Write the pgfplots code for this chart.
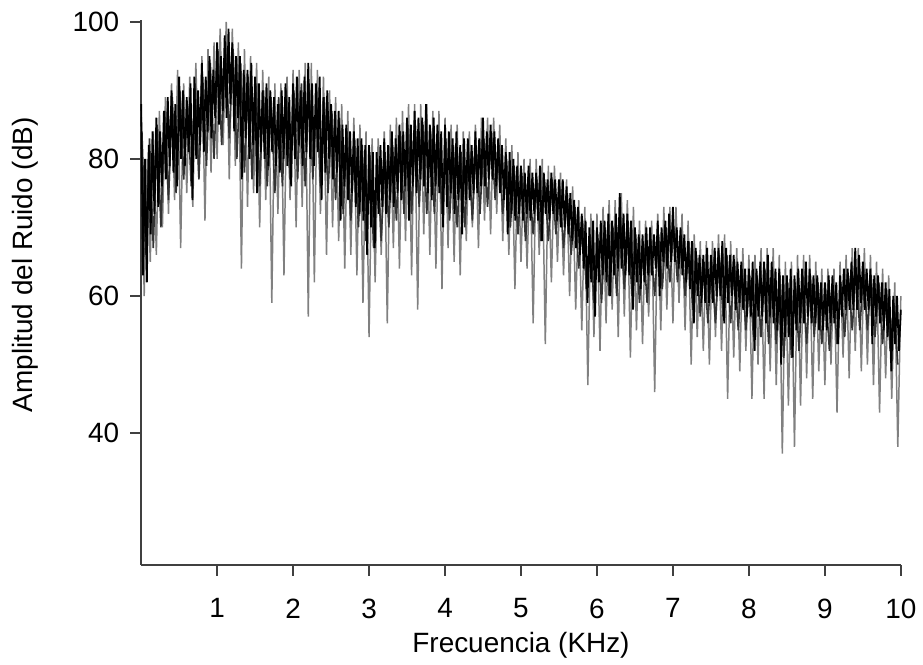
\documentclass[border=0pt]{standalone}
\usepackage{pgfplots}
\pgfplotsset{compat=1.18}
\usepackage{fontspec}
\setmainfont{Liberation Sans}
\begin{document}
\begin{tikzpicture}
\begin{axis}[
 scale only axis, width=381pt, height=273pt,
 xmin=0, xmax=10, ymin=20.8, ymax=100.2,
 axis x line*=bottom, axis y line*=left,
 axis line style={line width=1.2pt, black!75},
 xtick={1,...,10}, ytick={40,60,80,100},
 tick align=outside, major tick length=5.5pt,
 tick style={line width=0.9pt, black!75},
 /pgf/number format/assume math mode=true,
 font=\fontsize{14}{16}\selectfont,
 xticklabel style={yshift=-8pt}, yticklabel style={xshift=-2pt},
 xlabel={Frecuencia (KHz)}, ylabel={Amplitud del Ruido (dB)},
 xlabel style={at={(axis description cs:0.5,-0.148)}, anchor=center},
 ylabel style={at={(axis description cs:-0.153,0.551)}, anchor=center},
 clip=false]
 \path (rel axis cs:-0.1858,-0.1777) (rel axis cs:1.0249,1.0375);
 % grey spikes
 \addplot[black!50, line width=0.75pt] coordinates {
 (0,87)(0.04,60)(0.08,80)(0.12,65)(0.16,84)(0.20,66)(0.24,87)(0.28,70)(0.32,89)(0.36,72)
 (0.40,91)(0.44,74)(0.48,93)(0.52,67)(0.56,91)(0.60,75)(0.64,92)(0.68,73)(0.72,94)(0.76,77)
 (0.80,95)(0.84,71)(0.88,96)(0.92,78)(0.96,97)(1.00,80)(1.04,99)(1.08,82)(1.12,100)(1.16,77)
 (1.20,99)(1.24,79)(1.28,97)(1.32,64)(1.36,96)(1.40,73)(1.44,95)(1.48,75)(1.52,94)(1.56,70)
 (1.60,93)(1.64,74)(1.68,92)(1.72,59)(1.76,91)(1.80,72)(1.84,91)(1.88,63)(1.92,92)(1.96,74)
 (2.00,93)(2.04,70)(2.08,93)(2.12,73)(2.16,94)(2.20,57)(2.24,94)(2.28,62)(2.32,93)(2.36,72)
 (2.40,92)(2.44,66)(2.48,90)(2.52,70)(2.56,89)(2.60,68)(2.64,88)(2.68,64)(2.72,87)(2.76,66)
 (2.80,86)(2.84,63)(2.88,85)(2.92,59)(2.96,84)(3.00,54)(3.04,83)(3.08,62)(3.12,83)(3.16,66)
 (3.20,84)(3.24,56)(3.28,85)(3.32,67)(3.36,86)(3.40,64)(3.44,87)(3.48,68)(3.52,88)(3.56,63)
 (3.60,88)(3.64,58)(3.68,88)(3.72,69)(3.76,88)(3.80,66)(3.84,87)(3.88,64)(3.92,87)(3.96,61)
 (4.00,86)(4.04,67)(4.08,85)(4.12,65)(4.16,85)(4.20,63)(4.24,84)(4.28,68)(4.32,84)(4.36,70)
 (4.40,85)(4.44,67)(4.48,86)(4.52,71)(4.56,86)(4.60,69)(4.64,86)(4.68,72)(4.72,85)(4.76,68)
 (4.80,83)(4.84,66)(4.88,82)(4.92,61)(4.96,81)(5.00,65)(5.04,80)(5.08,64)(5.12,80)(5.16,56)
 (5.20,80)(5.24,66)(5.28,80)(5.32,53)(5.36,79)(5.40,62)(5.44,79)(5.48,65)(5.52,78)(5.56,63)
 (5.60,77)(5.64,60)(5.68,76)(5.72,58)(5.76,74)(5.80,55)(5.84,73)(5.88,47)(5.92,72)(5.96,54)
 (6.00,72)(6.04,52)(6.08,73)(6.12,56)(6.16,74)(6.20,58)(6.24,74)(6.28,54)(6.32,75)(6.36,57)
 (6.40,74)(6.44,51)(6.48,73)(6.52,55)(6.56,71)(6.60,53)(6.64,71)(6.68,57)(6.72,71)(6.76,46)
 (6.80,72)(6.84,55)(6.88,73)(6.92,58)(6.96,73)(7.00,56)(7.04,73)(7.08,59)(7.12,72)(7.16,55)
 (7.20,71)(7.24,50)(7.28,69)(7.32,54)(7.36,68)(7.40,52)(7.44,68)(7.48,50)(7.52,68)(7.56,54)
 (7.60,69)(7.64,52)(7.68,69)(7.72,45)(7.76,68)(7.80,51)(7.84,67)(7.88,49)(7.92,67)(7.96,52)
 (8.00,66)(8.04,45)(8.08,66)(8.12,50)(8.16,67)(8.20,45)(8.24,67)(8.28,49)(8.32,67)(8.36,47)
 (8.40,66)(8.44,37)(8.48,65)(8.52,44)(8.56,65)(8.60,38)(8.64,66)(8.68,44)(8.72,66)(8.76,48)
 (8.80,66)(8.84,45)(8.88,65)(8.92,49)(8.96,64)(9.00,47)(9.04,64)(9.08,50)(9.12,64)(9.16,43)
 (9.20,65)(9.24,51)(9.28,66)(9.32,48)(9.36,67)(9.40,52)(9.44,67)(9.48,49)(9.52,67)(9.56,50)
 (9.60,66)(9.64,47)(9.68,65)(9.72,43)(9.76,64)(9.80,48)(9.84,63)(9.88,45)(9.92,62)(9.96,38)
 (10.00,60)};
 % dark grey layer that widens the band
 \addplot[black!80, line width=0.8pt] coordinates {
 (0.01,84)(0.06,66)(0.11,83)(0.16,67)(0.21,85)(0.26,70)(0.31,87)(0.36,74)(0.41,89)(0.46,75)
 (0.51,90)(0.56,77)(0.61,88)(0.66,76)(0.71,91)(0.76,77)(0.81,92)(0.86,79)(0.91,94)(0.96,80)
 (1.01,96)(1.06,82)(1.11,97)(1.16,83)(1.21,96)(1.26,80)(1.31,94)(1.36,78)(1.41,92)(1.46,77)
 (1.51,91)(1.56,76)(1.61,90)(1.66,76)(1.71,89)(1.76,75)(1.81,89)(1.86,76)(1.91,90)(1.96,77)
 (2.01,90)(2.06,77)(2.11,91)(2.16,76)(2.21,91)(2.26,77)(2.31,90)(2.36,76)(2.41,89)(2.46,75)
 (2.51,87)(2.56,74)(2.61,86)(2.66,72)(2.71,84)(2.76,71)(2.81,83)(2.86,70)(2.91,82)(2.96,68)
 (3.01,81)(3.06,67)(3.11,80)(3.16,68)(3.21,81)(3.26,70)(3.31,82)(3.36,71)(3.41,84)(3.46,72)
 (3.51,85)(3.56,72)(3.61,85)(3.66,73)(3.71,85)(3.76,72)(3.81,84)(3.86,72)(3.91,84)(3.96,72)
 (4.01,83)(4.06,71)(4.11,82)(4.16,70)(4.21,81)(4.26,70)(4.31,81)(4.36,71)(4.41,82)(4.46,72)
 (4.51,83)(4.56,73)(4.61,84)(4.66,74)(4.71,82)(4.76,72)(4.81,80)(4.86,70)(4.91,79)(4.96,69)
 (5.01,78)(5.06,68)(5.11,77)(5.16,69)(5.21,77)(5.26,68)(5.31,77)(5.36,68)(5.41,77)(5.46,69)
 (5.51,76)(5.56,67)(5.61,75)(5.66,66)(5.71,73)(5.76,64)(5.81,71)(5.86,61)(5.91,69)(5.96,59)
 (6.01,69)(6.06,59)(6.11,70)(6.16,60)(6.21,70)(6.26,60)(6.31,71)(6.36,61)(6.41,71)(6.46,60)
 (6.51,69)(6.56,59)(6.61,68)(6.66,59)(6.71,68)(6.76,60)(6.81,69)(6.86,61)(6.91,70)(6.96,62)
 (7.01,70)(7.06,62)(7.11,69)(7.16,60)(7.21,68)(7.26,58)(7.31,66)(7.36,57)(7.41,65)(7.46,56)
 (7.51,65)(7.56,56)(7.61,66)(7.66,57)(7.71,66)(7.76,56)(7.81,65)(7.86,55)(7.91,64)(7.96,55)
 (8.01,63)(8.06,54)(8.11,63)(8.16,54)(8.21,64)(8.26,53)(8.31,64)(8.36,53)(8.41,63)(8.46,51)
 (8.51,62)(8.56,51)(8.61,62)(8.66,52)(8.71,63)(8.76,53)(8.81,63)(8.86,54)(8.91,62)(8.96,53)
 (9.01,61)(9.06,52)(9.11,61)(9.16,53)(9.21,62)(9.26,54)(9.31,63)(9.36,55)(9.41,64)(9.46,55)
 (9.51,64)(9.56,55)(9.61,63)(9.66,54)(9.71,62)(9.76,53)(9.81,61)(9.86,52)(9.91,59)(9.96,50)};
 % black band
 \addplot[black, line width=0.9pt] coordinates {
 (0,88)(0.025,63)(0.05,80)(0.075,62)(0.1,82)(0.125,69)(0.15,84)(0.175,72)
 (0.2,86)(0.225,73)(0.25,84)(0.275,76)(0.3,87)(0.325,77)(0.35,89)(0.375,79)
 (0.4,90)(0.425,78)(0.45,88)(0.475,76)(0.5,92)(0.525,80)(0.55,90)(0.575,79)
 (0.6,89)(0.625,81)(0.65,91)(0.675,74)(0.7,92)(0.725,80)(0.75,90)(0.775,82)
 (0.8,94)(0.825,81)(0.85,92)(0.875,84)(0.9,95)(0.925,83)(0.95,93)(0.975,86)
 (1,97)(1.025,85)(1.05,95)(1.075,87)(1.1,98)(1.125,86)(1.15,99)(1.175,88)
 (1.2,97)(1.225,84)(1.25,95)(1.275,86)(1.3,95)(1.325,77)(1.35,93)(1.375,83)
 (1.4,93)(1.425,80)(1.45,94)(1.475,82)(1.5,92)(1.525,75)(1.55,91)(1.575,81)
 (1.6,90)(1.625,80)(1.65,91)(1.675,79)(1.7,90)(1.725,81)(1.75,89)(1.775,79)
 (1.8,88)(1.825,78)(1.85,90)(1.875,80)(1.9,91)(1.925,79)(1.95,89)(1.975,76)
 (2,91)(2.025,80)(2.05,92)(2.075,82)(2.1,90)(2.125,79)(2.15,92)(2.175,81)
 (2.2,94)(2.225,80)(2.25,91)(2.275,79)(2.3,91)(2.325,81)(2.35,92)(2.375,74)
 (2.4,89)(2.425,78)(2.45,90)(2.475,80)(2.5,88)(2.525,77)(2.55,87)(2.575,78)
 (2.6,87)(2.625,71)(2.65,85)(2.675,76)(2.7,85)(2.725,74)(2.75,84)(2.775,75)
 (2.8,84)(2.825,73)(2.85,83)(2.875,72)(2.9,83)(2.925,71)(2.95,82)(2.975,66)
 (3,82)(3.025,70)(3.05,81)(3.075,67)(3.1,81)(3.125,72)(3.15,82)(3.175,73)
 (3.2,83)(3.225,72)(3.25,82)(3.275,74)(3.3,84)(3.325,73)(3.35,83)(3.375,75)
 (3.4,85)(3.425,74)(3.45,84)(3.475,76)(3.5,86)(3.525,71)(3.55,85)(3.575,76)
 (3.6,87)(3.625,75)(3.65,86)(3.675,77)(3.7,86)(3.725,76)(3.75,88)(3.775,75)
 (3.8,85)(3.825,74)(3.85,86)(3.875,76)(3.9,85)(3.925,75)(3.95,84)(3.975,70)
 (4,85)(4.025,73)(4.05,84)(4.075,75)(4.1,83)(4.125,72)(4.15,84)(4.175,74)
 (4.2,82)(4.225,69)(4.25,83)(4.275,74)(4.3,83)(4.325,74)(4.35,82)(4.375,75)
 (4.4,84)(4.425,75)(4.45,83)(4.475,76)(4.5,86)(4.525,76)(4.55,84)(4.575,77)
 (4.6,85)(4.625,77)(4.65,84)(4.675,76)(4.7,83)(4.725,75)(4.75,82)(4.775,74)
 (4.8,81)(4.825,69)(4.85,81)(4.875,72)(4.9,80)(4.925,71)(4.95,79)(4.975,72)
 (5,79)(5.025,71)(5.05,78)(5.075,72)(5.1,79)(5.125,71)(5.15,78)(5.175,72)
 (5.2,78)(5.225,71)(5.25,79)(5.275,68)(5.3,78)(5.325,72)(5.35,77)(5.375,71)
 (5.4,78)(5.425,72)(5.45,77)(5.475,71)(5.5,77)(5.525,70)(5.55,77)(5.575,70)
 (5.6,76)(5.625,69)(5.65,75)(5.675,68)(5.7,74)(5.725,67)(5.75,73)(5.775,66)
 (5.8,72)(5.825,64)(5.85,71)(5.875,59)(5.9,70)(5.925,62)(5.95,71)(5.975,57)
 (6,70)(6.025,62)(6.05,71)(6.075,63)(6.1,71)(6.125,62)(6.15,72)(6.175,60)
 (6.2,71)(6.225,63)(6.25,72)(6.275,64)(6.3,75)(6.325,64)(6.35,72)(6.375,63)
 (6.4,72)(6.425,63)(6.45,71)(6.475,58)(6.5,70)(6.525,62)(6.55,69)(6.575,61)
 (6.6,69)(6.625,62)(6.65,70)(6.675,63)(6.7,70)(6.725,63)(6.75,69)(6.775,64)
 (6.8,71)(6.825,60)(6.85,70)(6.875,65)(6.9,71)(6.925,64)(6.95,72)(6.975,65)
 (7,73)(7.025,65)(7.05,70)(7.075,64)(7.1,70)(7.125,63)(7.15,69)(7.175,62)
 (7.2,68)(7.225,61)(7.25,68)(7.275,56)(7.3,67)(7.325,60)(7.35,66)(7.375,59)
 (7.4,66)(7.425,59)(7.45,67)(7.475,59)(7.5,66)(7.525,59)(7.55,67)(7.575,60)
 (7.6,67)(7.625,60)(7.65,68)(7.675,56)(7.7,67)(7.725,59)(7.75,66)(7.775,60)
 (7.8,66)(7.825,58)(7.85,65)(7.875,59)(7.9,65)(7.925,58)(7.95,64)(7.975,57)
 (8,64)(8.025,57)(8.05,65)(8.075,52)(8.1,64)(8.125,57)(8.15,65)(8.175,57)
 (8.2,65)(8.225,56)(8.25,66)(8.275,57)(8.3,65)(8.325,56)(8.35,64)(8.375,55)
 (8.4,64)(8.425,50)(8.45,63)(8.475,54)(8.5,63)(8.525,54)(8.55,64)(8.575,51)
 (8.6,63)(8.625,55)(8.65,64)(8.675,56)(8.7,64)(8.725,56)(8.75,65)(8.775,57)
 (8.8,64)(8.825,56)(8.85,63)(8.875,56)(8.9,63)(8.925,55)(8.95,62)(8.975,55)
 (9,62)(9.025,55)(9.05,63)(9.075,56)(9.1,63)(9.125,56)(9.15,62)(9.175,53)
 (9.2,63)(9.225,57)(9.25,64)(9.275,58)(9.3,64)(9.325,58)(9.35,65)(9.375,58)
 (9.4,67)(9.425,58)(9.45,66)(9.475,59)(9.5,65)(9.525,58)(9.55,64)(9.575,58)
 (9.6,64)(9.625,53)(9.65,63)(9.675,57)(9.7,63)(9.725,56)(9.75,62)(9.775,55)
 (9.8,62)(9.825,54)(9.85,61)(9.875,49)(9.9,60)(9.925,53)(9.95,60)(9.975,52)
 (10,58)};
\end{axis}
\end{tikzpicture}
\end{document}
